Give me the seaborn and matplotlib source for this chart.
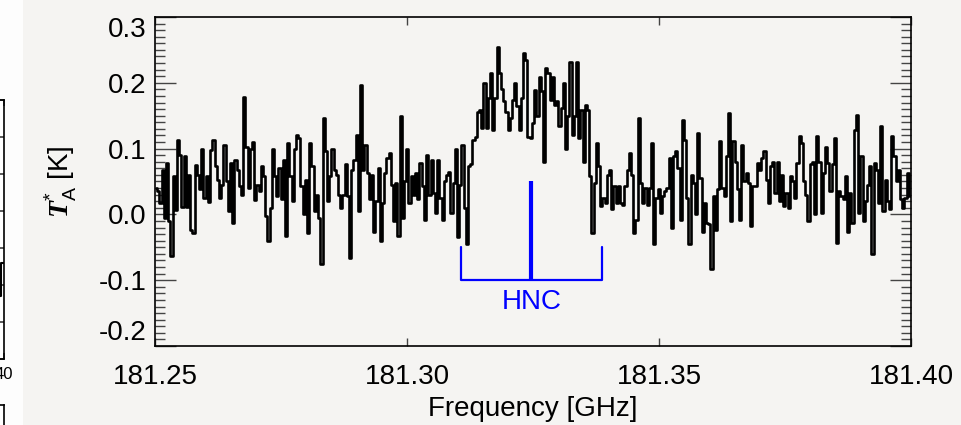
import numpy as np
import pandas as pd
import matplotlib
matplotlib.use("Agg")
import matplotlib.pyplot as plt
from matplotlib.patches import Rectangle
from matplotlib.ticker import MultipleLocator, NullLocator
import seaborn as sns

# Observed band edges (GHz) and antenna temperature per channel (K)
freq_start = 181.25
freq_end = 181.40
antenna_temp = [
    0.040, 0.035, 0.017, 0.068, -0.005, 0.078, -0.010, -0.063, 0.058, 0.007,
    0.113, 0.090, 0.012, 0.088, 0.012, 0.060, -0.023, -0.029, 0.075, 0.060,
    0.039, 0.100, 0.025, 0.058, 0.019, 0.098, 0.113, 0.073, 0.053, 0.025,
    0.045, 0.106, 0.050, 0.005, 0.078, -0.013, 0.083, 0.068, 0.043, 0.030,
    0.179, 0.103, 0.040, 0.100, 0.110, 0.022, 0.045, 0.035,
    0.073, 0.058, -0.003, -0.040, 0.010, 0.100, 0.058, 0.028, 0.070, 0.023,
    0.083, -0.033, 0.108, 0.058, 0.020, 0.100, 0.120, 0.116, 0.043, 0.000,
    0.053, -0.028, 0.108, 0.073, 0.005, 0.030, -0.005, -0.076, 0.146, 0.096,
    0.020, 0.058, 0.100, 0.068, 0.060, 0.030, 0.010, 0.030, 0.076, 0.028,
    -0.066, 0.068, 0.083, 0.120, 0.005, 0.197, 0.068, 0.106,
    0.063, 0.023, 0.060, -0.026, 0.020, 0.070, -0.040, 0.018, 0.063, 0.086,
    0.093, 0.045, -0.010, 0.048, -0.033, 0.149, -0.005, 0.050, 0.100, 0.018,
    0.058, 0.030, 0.063, 0.023, 0.078, 0.043, -0.008, 0.091, 0.030, 0.083,
    0.033, 0.002, 0.083, 0.025, -0.008, 0.050, 0.060, 0.065, 0.002, 0.048,
    0.100, -0.035, 0.045, 0.106, 0.010, -0.045, 0.073, 0.076, 0.113, 0.118,
    0.156,
    0.159, 0.131, 0.200, 0.131, 0.177, 0.215, 0.129, 0.177, 0.255, 0.215,
    0.190, 0.172, 0.156, 0.129, 0.146, 0.174, 0.200, 0.164, 0.129, 0.177,
    0.245, 0.235, 0.118, 0.116, 0.139, 0.189, 0.149, 0.209, 0.187, 0.080,
    0.222, 0.215, 0.174, 0.209, 0.167, 0.172, 0.134, 0.162, 0.200, 0.100,
    0.149, 0.232, 0.121, 0.150, 0.232, 0.116, 0.159, 0.080, 0.167, 0.159,
    0.058, -0.028, 0.048, 0.108, 0.073, 0.013, 0.025, 0.018, 0.060, 0.068,
    0.008, 0.043, 0.018, 0.043, 0.018, 0.015, 0.043, 0.068, 0.093, 0.060,
    -0.028, -0.008, 0.146, 0.048, 0.018, 0.040, 0.015, 0.040, 0.108, -0.045,
    0.025, 0.038, 0.002, 0.028, 0.035, 0.040, 0.086, -0.020, 0.088, 0.096,
    0.070, -0.008, 0.144, 0.113, 0.025, -0.045, 0.060, 0.048,
    0.000, 0.123, 0.055, -0.026, 0.018, -0.013, -0.015, -0.083, 0.028, -0.023,
    0.038, 0.111, 0.040, 0.028, 0.088, 0.154, -0.010, 0.111, 0.080, 0.038,
    -0.008, 0.106, 0.050, 0.063, 0.048, -0.018, 0.043, 0.043, 0.078, 0.068,
    0.086, 0.096, 0.053, 0.018, 0.073, 0.080, 0.033, 0.080, 0.020, 0.060,
    0.013, 0.033, 0.010, 0.058, 0.050, 0.025, 0.078, 0.119, 0.108,
    0.050, 0.030, -0.010, 0.076, 0.080, 0.000, 0.119, 0.080, 0.002, 0.063,
    0.103, 0.078, 0.035, 0.076, 0.116, -0.043, 0.035, 0.028, 0.023, 0.058,
    -0.026, 0.033, -0.013, 0.129, 0.151, 0.002, 0.088, -0.010, 0.020, 0.045,
    0.073, -0.060, 0.078, 0.068, 0.018, 0.134, 0.005, 0.053, 0.020, 0.008,
    0.119, 0.088, 0.050, 0.068, 0.023, 0.010, 0.025, 0.063, 0.028,
]

# HNC J=2-1 marker: rest frequency, velocity-range bracket and label
hnc_rest = 181.3247
hnc_halfwidth = 0.0139
hnc_peak = 0.05
hnc_base = -0.10
hnc_edge_top = -0.05
hnc_label = "HNC"
hnc_label_y = -0.133

x_ticks = [181.25, 181.30, 181.35, 181.40]
x_tick_labels = ["181.25", "181.30", "181.35", "181.40"]
y_ticks = [-0.2, -0.1, 0.0, 0.1, 0.2, 0.3]
y_tick_labels = ["-0.2", "-0.1", "0.0", "0.1", "0.2", "0.3"]

# Neighbouring panel edge (only its right border is in frame)
side_x = [38.6, 39.3, 40.0]
side_y = [3.8, 1.7, 2.6]

BG = "#f5f4f2"
BLUE = "#0000ff"
FS = 20

sns.set_theme(style="ticks")
plt.rcParams.update({
    "font.family": ["Liberation Sans", "DejaVu Sans"],
    "mathtext.fontset": "custom",
    "mathtext.rm": "Liberation Sans",
    "mathtext.bf": "Liberation Serif:italic:bold",
    "axes.linewidth": 1.2,
    "axes.edgecolor": "black",
    "text.color": "black",
    "axes.labelcolor": "black",
    "xtick.labelcolor": "black",
    "ytick.labelcolor": "black",
})

n = len(antenna_temp)
chan = (freq_end - freq_start) / n
freq = freq_start + chan * (np.arange(n) + 0.5)
df = pd.DataFrame({"freq": freq, "ta": antenna_temp})

W, H = 961, 425
fig = plt.figure(figsize=(W / 100, H / 100), dpi=100, facecolor=BG)
fig.patches.append(Rectangle((0, 0), 23 / W, 1, transform=fig.transFigure,
                             facecolor="#fdfdfd", edgecolor="none", zorder=-5))

ax = fig.add_axes([155 / W, 1 - 346 / H, (911 - 155) / W, (346 - 17) / H])
ax.set_facecolor(BG)

sns.lineplot(data=df, x="freq", y="ta", ax=ax, color="black", lw=1.9,
             drawstyle="steps-mid", estimator=None, sort=True)

# HNC marker
ax.plot([hnc_rest, hnc_rest], [hnc_base, hnc_peak], color=BLUE, lw=3.0,
        solid_capstyle="butt")
ax.plot([hnc_rest - hnc_halfwidth, hnc_rest - hnc_halfwidth,
         hnc_rest + hnc_halfwidth, hnc_rest + hnc_halfwidth],
        [hnc_edge_top, hnc_base, hnc_base, hnc_edge_top],
        color=BLUE, lw=1.6)
ax.text(hnc_rest, hnc_label_y, hnc_label, color=BLUE, fontsize=FS,
        ha="center", va="center")

ax.set_xlim(freq_start, freq_end)
ax.set_ylim(y_ticks[0], y_ticks[-1])
ax.set_xticks(x_ticks, x_tick_labels)
ax.set_yticks(y_ticks, y_tick_labels)
ax.xaxis.set_minor_locator(NullLocator())
ax.yaxis.set_minor_locator(MultipleLocator(0.01))
ax.tick_params(axis="both", which="both", direction="in", top=True,
               right=True, color="#444444", width=1.0, labelsize=FS,
               labelcolor="black")
ax.tick_params(axis="x", which="major", length=6, pad=13)
ax.tick_params(axis="y", which="major", length=15, pad=6)
ax.tick_params(axis="y", which="minor", length=7.5)

yt = ax.yaxis.get_major_ticks()
yt[0].label1.set_va("bottom")
yt[-1].label1.set_va("top")

ax.set_xlabel("Frequency [GHz]", fontsize=FS, labelpad=4, color="black")
ax.set_ylabel(r"$\mathbf{T}_{\mathrm{A}}^{*}$ [K]", fontsize=FS, color="black")
ax.yaxis.set_label_coords((79 - 155) / (911 - 155), 0.5)

# Edge of the neighbouring panels on the far left
side = fig.add_axes([-0.3, 1 - 359 / H, 0.3 + 4 / W, (359 - 100) / H])
side.set_facecolor("white")
side.plot(side_x, side_y, color="black", lw=1.5, drawstyle="steps-mid")
side.set_xlim(0, 40)
side.set_ylim(0, 7)
side.set_xticks([40], ["40"])
side.set_yticks(range(8))
side.tick_params(direction="in", right=True, top=True, length=4,
                 labelsize=12, pad=6, color="#444444", labelcolor="black")
side.set_yticklabels([])

side2 = fig.add_axes([-0.3, -0.2, 0.3 + 4 / W, 0.2 + 20 / H])
side2.set_facecolor("white")
side2.set_xticks([])
side2.set_yticks([])

fig.savefig("out.png", dpi=100, facecolor=BG)
